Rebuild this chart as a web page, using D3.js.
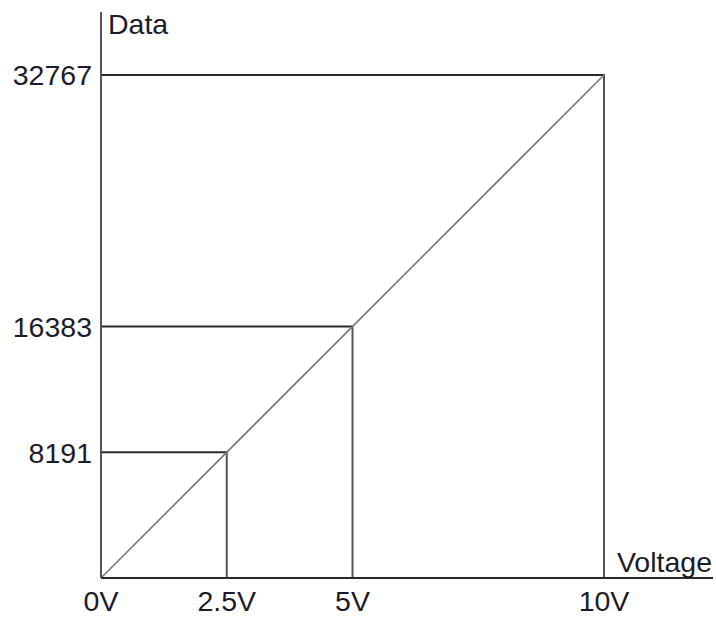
<!DOCTYPE html>
<html>
<head>
<meta charset="utf-8">
<script src="https://cdn.jsdelivr.net/npm/d3@7"></script>
<style>
  body { margin: 0; background: #fff; }
  text { font-family: "Liberation Sans", Arial, sans-serif; fill: #1c1c28; font-size: 28.5px; }
</style>
</head>
<body>
<script>
// values
var voltages = [0, 2.5, 5, 10];
var xTickLabels = ["0V", "2.5V", "5V", "10V"];
var dataCodes = [8191, 16383, 32767];
var yTickLabels = ["8191", "16383", "32767"];
// conversion line end points (voltage -> data)
var lineVolts = [0, 10];
var lineCodes = [0, 32767];
// guide points drawn with drop lines
var guideVolts = [2.5, 5, 10];
var guideCodes = [8191, 16383, 32767];

var width = 716, height = 617;

var svg = d3.select("body").append("svg")
    .attr("width", width)
    .attr("height", height);

// scales
var x = d3.scaleLinear().domain([0, 10]).range([101, 604]);
var y = d3.scaleLinear().domain([0, 32767]).range([578, 75]);

// guide lines (horizontal from y axis, vertical down to x axis)
var guides = guideVolts.map(function(v, i) {
    return { v: v, c: guideCodes[i] };
});

svg.selectAll("line.h").data(guides).enter().append("line")
    .attr("class", "h")
    .attr("x1", x(0))
    .attr("x2", function(d) { return x(d.v); })
    .attr("y1", function(d) { return y(d.c); })
    .attr("y2", function(d) { return y(d.c); })
    .attr("stroke", "#2a2a2a")
    .attr("stroke-width", 2);

svg.selectAll("line.v").data(guides).enter().append("line")
    .attr("class", "v")
    .attr("x1", function(d) { return x(d.v); })
    .attr("x2", function(d) { return x(d.v); })
    .attr("y1", function(d) { return y(d.c) - 1; })
    .attr("y2", y(0))
    .attr("stroke", "#555")
    .attr("stroke-width", 2);

// the conversion line
var line = d3.line()
    .x(function(d) { return x(d[0]); })
    .y(function(d) { return y(d[1]); });

svg.append("path")
    .datum(lineVolts.map(function(v, i) { return [v, lineCodes[i]]; }))
    .attr("d", line)
    .attr("fill", "none")
    .attr("stroke", "#777")
    .attr("stroke-width", 1.6);

// axes
svg.append("line")
    .attr("x1", x(0)).attr("x2", 713)
    .attr("y1", y(0)).attr("y2", y(0))
    .attr("stroke", "#2a2a2a")
    .attr("stroke-width", 2);

svg.append("line")
    .attr("x1", x(0)).attr("x2", x(0))
    .attr("y1", 12).attr("y2", y(0))
    .attr("stroke", "#555")
    .attr("stroke-width", 2);

// tick labels
svg.selectAll("text.xl").data(voltages).enter().append("text")
    .attr("class", "xl")
    .attr("x", function(d) { return x(d); })
    .attr("y", 611)
    .attr("text-anchor", "middle")
    .text(function(d, i) { return xTickLabels[i]; });

svg.selectAll("text.yl").data(dataCodes).enter().append("text")
    .attr("class", "yl")
    .attr("x", 92)
    .attr("y", function(d) { return y(d); })
    .attr("dy", "0.36em")
    .attr("text-anchor", "end")
    .text(function(d, i) { return yTickLabels[i]; });

// axis titles
svg.append("text")
    .attr("x", 108).attr("y", 34)
    .text("Data");

svg.append("text")
    .attr("x", 712).attr("y", 572)
    .attr("text-anchor", "end")
    .text("Voltage");
</script>
</body>
</html>
